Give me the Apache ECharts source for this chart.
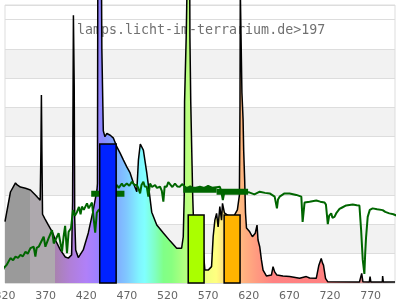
<!DOCTYPE html>
<html><head><meta charset="utf-8">
<script src="https://cdn.jsdelivr.net/npm/echarts@6/dist/echarts.min.js"></script>
<style>html,body{margin:0;padding:0;background:#fff}#c{width:400px;height:300px}</style>
</head><body><div id="c"></div>
<script>
// Spectrum (wavelength nm, relative intensity)
const specWl = [320,322,326.7,332.9,335,339,345.2,351.3,357.4,363.3,364.2,364.8,365.4,366.2,369,373.4,378.3,382,388.1,394.2,398,402,403.2,403.8,404.2,404.8,405.2,405.8,407,410.2,416.3,422.5,428.6,433.2,433.8,434.2,438.8,439.2,440.6,441,443,445.4,449.5,453.5,457.7,461.7,465.8,469.9,474,478,482.2,484.2,486.5,487.5,490.3,494.5,497.7,500.6,506.8,514.9,523.1,531.3,537.4,539.4,540.6,541,542.6,543,543.8,544,547.4,547.6,548.2,548.6,549.8,551,551.7,553.8,557.8,563.9,566,570.1,574.2,576.2,578.3,580.4,582.3,584.4,586.5,587.7,590,600,606,608.5,609.2,609.6,611.2,611.6,613,613.8,615,616,617.2,621.2,624.5,628,630.2,631.4,633.5,635.6,637.6,641.7,647.9,649.9,651.9,654.7,662.1,670.3,682.6,690.8,694.9,703.1,706.3,709.2,710.8,712,714.5,717.3,756.2,759,760.5,768.4,769.3,770.3,784.4,784.8,785.6,800];
const specVal = [21,21.5,31.1,34.2,33.5,32.8,32.4,31.8,30.1,28.3,45,64.2,45,23.5,22,19.8,17.4,14.7,11.3,8.9,8.5,9.6,28,67,91.5,91.5,67,22,11.3,8.7,11.3,17.1,24.9,31.8,34,100,100,80,80,52,50,51.1,50.5,49.5,46.5,44.4,42,39.7,37.6,34.2,31.2,42,47.5,47.5,45.4,37.6,30.7,24.2,19.8,17.1,14.4,11.9,11.9,15.8,30,62,62,84,84,100,100,84,84,62,62,30,23.8,15.8,13,11.3,4.4,4.4,5.6,15.8,21.5,23.8,19.2,26.1,21.5,27.2,24,22,25,30,60,100,100,65,56,45,35,24,18.8,17.5,15.8,17,19.8,14.7,12.4,7.9,4.4,2.4,2.7,5.6,3.8,2.7,2.4,2.2,1.6,2.2,1.7,1.6,6.1,8.4,6.8,6.1,1.6,0.4,0.3,3.3,0.4,0.3,2.2,0.3,0.3,2.4,0.3,0.3];
// Transmission curve (green)
const transWl = [314.5,318.5,321.8,326.7,330,332.9,336,339,342,345.2,348,351.3,355.3,357.4,359,361.5,365.6,367.6,369.7,373.7,377.9,380,382,386,388,390.2,392.1,394,396.3,398.3,401.2,403.7,406,408.6,411,413,414.7,417,420.9,423,424.9,427,429,431,433,435.1,447,457.7,460,463.8,466,469.9,473,476.1,479,482.2,484,486.3,488,490.3,492,494.5,496.4,498.5,501,504.7,507,510.8,513,514.9,516.5,519,521,523.1,526,529.2,532,535.3,538,543.6,548,552,559.9,565,570,575,584.4,586,588.1,590,596.7,603,610,615,621.2,627,633.5,640,645.8,651.9,654.7,656,658,664,670.3,678.5,684.7,686.3,688.7,694.9,703.1,708,713.3,715,717.3,719,721.5,723,725.5,728,731.7,735,739.9,748,753,756.2,758.3,760.3,762.3,763.3,764.4,766.4,769,772.5,778,784.8,788,793,798,805.3];
const transVal = [2.2,5.1,6.1,8.5,7.8,9,8.6,9.6,9.1,10.7,10,11.9,12.4,9,12,12.4,14.7,15.8,12.4,15.3,18.1,13.5,14.1,17,14,10.7,15.8,19.5,10.2,17.5,18.7,24.9,23,24.3,26,23.5,26.1,25,27.2,25.5,24.9,27.5,27.2,17.2,24,24.9,28,33.5,32.5,34,33,34,33.2,34.6,33.6,33.5,32.5,30.6,33.5,34.6,33,32.9,29.5,34,32.8,33.5,32.5,32.9,31.5,27.8,33,32.9,34.5,34,32.8,34,33,32.9,33.8,32.3,33,32.2,32.9,32.4,33.2,32.5,32.9,31.5,28.3,31.1,31.2,31.5,30.8,31.2,30.9,30.3,31.2,30.8,30.6,29.5,25.5,28.5,29.5,30.6,30.6,30.1,29.5,20.9,27.5,27.8,28.2,27.8,27.5,26.8,20.1,23,23.8,22.3,22.6,24,25.3,25.8,26.5,26.8,26.6,26.5,18.1,7.9,3.1,10,15.7,22.6,25,25.5,25.2,24.9,24.3,23.8,23.5,22.6];
// Band bars (start nm, end nm, level)
const barStart = [436.6, 545.5, 589.7];
const barEnd = [456.8, 565.0, 609.3];
const barVal = [47.5, 23.2, 23.2];
// Band averages of transmission (dark green)
const markStart = [426.1, 539.4, 580.4];
const markEnd = [467.0, 580.4, 619.2];
const markVal = [30.5, 31.9, 31.2];
// Shaded background bands (y units)
const bandLow = [10, 30, 50, 70];
const bandHigh = [20, 40, 60, 80];
const titleText = 'lamps.licht-im-terrarium.de>197';
// Fill gradient stops by wavelength
const gradWl = [320,351.2,351.3,382,382.1,400,420,432,440,455,470,485,492,505,515,525,540,555,570,580,590,600,615,630,650,720,755,780,800];
const gradColor = ['#9a9a9a','#9a9a9a','#aea9ae','#aea9ae','#a982b0','#b07fd8','#b080f8','#a080ff','#8888ff','#80a8ff','#80c8ff','#80f4ff','#80ffff','#80ffc0','#80ff88','#88ff80','#b0ff80','#d0ff80','#f4ff80','#ffff80','#ffe080','#ffcc80','#ffb080','#ff9a80','#ff8282','#ff8080','#e08888','#c89898','#c0a0a0'];
const barColors = ['#0022ff', '#aaff00', '#ffb400'];

const chart = echarts.init(document.getElementById('c'), null, {renderer: 'canvas'});
const grad = new echarts.graphic.LinearGradient(0, 0, 1, 0,
  gradWl.map((w, i) => ({offset: (w - 320) / 480, color: gradColor[i]})));

chart.setOption({
  animation: false,
  grid: {left: 5, right: 5, top: 5, bottom: 17, show: true, borderColor: '#dddddd', borderWidth: 1, outerBoundsMode: 'none', containLabel: false},
  xAxis: {
    type: 'value', min: 320, max: 800, interval: 50,
    axisLine: {show: false}, axisTick: {show: false}, splitLine: {show: false},
    axisLabel: {color: '#666', fontSize: 11, fontFamily: 'DejaVu Sans', margin: 8, showMaxLabel: false, showMinLabel: true, alignMinLabel: 'center', align: 'center'}
  },
  yAxis: {
    type: 'value', min: 0, max: 95, interval: 10,
    axisLine: {show: false}, axisTick: {show: false}, axisLabel: {show: false},
    splitLine: {show: true, lineStyle: {color: '#dddddd', width: 1}}
  },
  graphic: [{
    type: 'text', left: 77, top: 24, z: 0,
    style: {text: titleText, fill: '#707070', font: '13.3px "DejaVu Sans Mono", monospace'}
  }],
  series: [
    {
      type: 'line', data: [], silent: true, z: 0,
      markArea: {
        silent: true, z: -1,
        itemStyle: {color: '#f2f2f2'},
        data: bandLow.map((b, i) => [{yAxis: b}, {yAxis: bandHigh[i]}])
      }
    },
    {
      type: 'line', z: 2, clip: false, showSymbol: false, symbol: 'none',
      data: specWl.map((w, i) => [w, specVal[i]]),
      lineStyle: {color: '#000', width: 1.5},
      areaStyle: {color: grad, opacity: 1}
    },
    {
      type: 'line', z: 3, clip: false, showSymbol: false, symbol: 'none',
      data: transWl.map((w, i) => [w, transVal[i]]),
      lineStyle: {color: '#006600', width: 2}
    },
    {
      type: 'custom', z: 4,
      data: markStart.map((s, i) => [s, markEnd[i], markVal[i]]),
      encode: {x: [0, 1], y: 2},
      renderItem: (params, api) => {
        const a = api.coord([api.value(0), api.value(2)]);
        const b = api.coord([api.value(1), api.value(2)]);
        return {type: 'rect', shape: {x: a[0], y: a[1] - 3, width: b[0] - a[0], height: 6}, style: {fill: '#006600'}};
      }
    },
    {
      type: 'custom', z: 5,
      data: barStart.map((s, i) => [s, barEnd[i], barVal[i]]),
      encode: {x: [0, 1], y: 2},
      renderItem: (params, api) => {
        const a = api.coord([api.value(0), api.value(2)]);
        const b = api.coord([api.value(1), 0]);
        return {type: 'rect', shape: {x: a[0], y: a[1], width: b[0] - a[0], height: b[1] - a[1]},
          style: {fill: barColors[params.dataIndex], stroke: '#000', lineWidth: 1.5}};
      }
    }
  ]
});
</script></body></html>
